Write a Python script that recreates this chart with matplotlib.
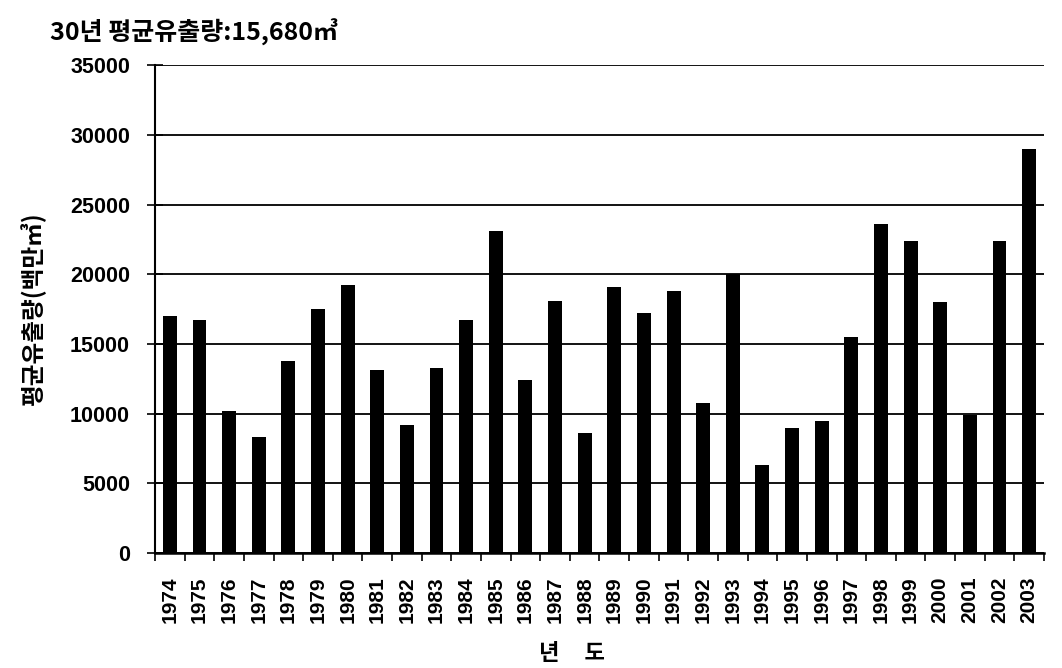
import matplotlib.pyplot as plt
import numpy as np


# 연도별 평균유출량 (백만㎥), 그림에서 읽은 값
years = [str(y) for y in range(1974, 2004)]
runoff = [17000, 16700, 10200, 8300, 13800, 17500, 19200, 13100, 9200, 13300,
          16700, 23100, 12400, 18100, 8600, 19100, 17200, 18800, 10800, 20000,
          6300, 9000, 9500, 15500, 23600, 22400, 18000, 9900, 22400, 29000]
yticks = [0, 5000, 10000, 15000, 20000, 25000, 30000, 35000]

title = "30년 평균유출량:15,680㎥"
ylabel = "평균유출량(백만㎥)"
xlabel = "년     도"

plt.rcParams['font.family'] = ['Liberation Sans', 'Noto Sans CJK KR', 'DejaVu Sans']
kfont = ['Noto Sans CJK KR', 'DejaVu Sans']

fig = plt.figure(figsize=(10.62, 6.68), dpi=100)
ax = fig.add_axes([0.146, 0.172, 0.837, 0.7305])

x = np.arange(len(years))
ax.bar(x, runoff, width=0.47, color="black", zorder=3)

ax.set_xlim(-0.5, len(years) - 0.5)
ax.set_ylim(0, 35000)

# gridlines
ax.set_yticks(yticks)
ax.yaxis.grid(True, color="black", linewidth=1.3)
ax.set_axisbelow(True)

ax.set_xticks(x)
ax.set_xticklabels(years, rotation=90, fontsize=15, fontweight="bold")
ax.set_xticks(np.arange(-0.5, len(years)), minor=True)
ax.tick_params(axis="x", which="major", length=0, pad=17)
ax.tick_params(axis="x", which="minor", length=6, width=1.2, direction="out")
ax.tick_params(axis="y", length=12, width=1.2, direction="inout", pad=12)
for lab in ax.get_yticklabels():
    lab.set_fontsize(15.5)
    lab.set_fontweight("bold")

for s in ("top", "right"):
    ax.spines[s].set_visible(False)
ax.spines["left"].set_linewidth(1.5)
ax.spines["bottom"].set_linewidth(1.8)

fig.text(0.047, 0.952, title, family=kfont, fontsize=18, fontweight="bold",
         ha="left", va="center")
fig.text(0.031, 0.537, ylabel, family=kfont, fontsize=17, fontweight="bold",
         rotation=90, ha="center", va="center")
fig.text(0.539, 0.022, xlabel, family=kfont, fontsize=16, fontweight="bold",
         ha="center", va="center")

fig.savefig("out.png", dpi=100)
